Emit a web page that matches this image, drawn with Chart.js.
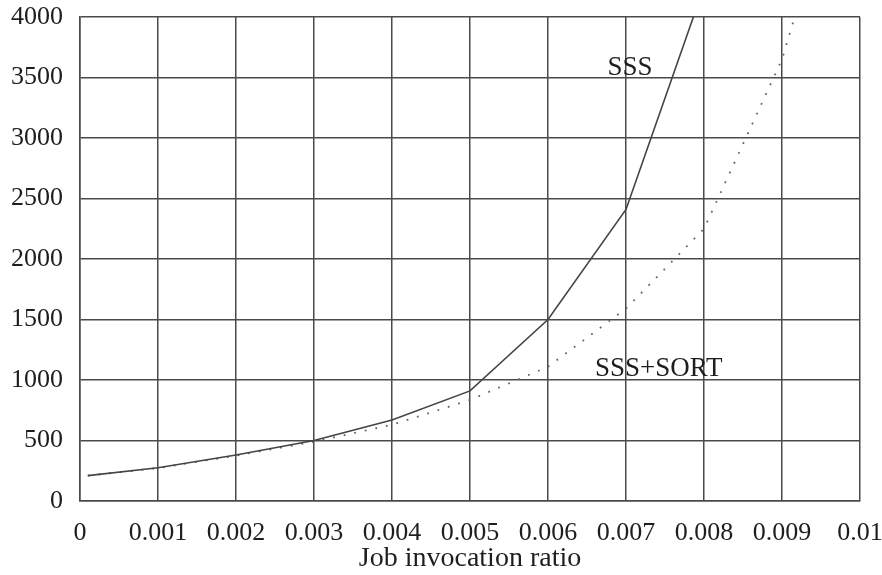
<!DOCTYPE html>
<html>
<head>
<meta charset="utf-8">
<script src="https://cdn.jsdelivr.net/npm/chart.js@4/dist/chart.umd.min.js"></script>
<style>
  html, body { margin: 0; padding: 0; background: #fff; }
  #wrap { width: 882px; height: 575px; }
</style>
</head>
<body>
<div id="wrap"><canvas id="chart"></canvas></div>
<script>
// values
const sssX = [0.0001, 0.001, 0.002, 0.003, 0.004, 0.005, 0.006, 0.007, 0.008];
const sssY = [210, 275, 380, 500, 670, 910, 1500, 2410, 4250];
const sortX = [0.0001, 0.001, 0.002, 0.003, 0.004, 0.005, 0.006, 0.007, 0.008, 0.009, 0.01];
const sortY = [210, 272, 375, 490, 630, 835, 1110, 1590, 2250, 3650, 5800];

// curve labels, placed in data coordinates
const curveLabels = ['SSS', 'SSS+SORT'];
const labelX = [0.00705, 0.00742];
const labelY = [3580, 1090];

const serif = '"Liberation Serif", "DejaVu Serif", serif';
const ink = '#1e1e1e';
const gridCol = '#4a4a4a';

const toPoints = (xs, ys) => xs.map((x, i) => ({ x, y: ys[i] }));

// draws the SSS / SSS+SORT names next to the curves
const curveLabelPlugin = {
    id: 'curveLabels',
    afterDatasetsDraw(chart) {
        const { ctx, scales } = chart;
        ctx.save();
        ctx.font = '27px ' + serif;
        ctx.fillStyle = ink;
        ctx.textAlign = 'center';
        ctx.textBaseline = 'middle';
        curveLabels.forEach((txt, i) => {
            ctx.fillText(txt, scales.x.getPixelForValue(labelX[i]), scales.y.getPixelForValue(labelY[i]));
        });
        ctx.restore();
    }
};

new Chart(document.getElementById('chart').getContext('2d'), {
    type: 'line',
    data: {
        datasets: [
            {
                label: 'SSS',
                data: toPoints(sssX, sssY),
                borderColor: '#444',
                borderWidth: 1.6,
                pointRadius: 0,
                tension: 0
            },
            {
                label: 'SSS+SORT',
                data: toPoints(sortX, sortY),
                borderColor: '#666',
                borderWidth: 1.8,
                borderDash: [1.8, 9],
                pointRadius: 0,
                tension: 0
            }
        ]
    },
    options: {
        responsive: true,
        maintainAspectRatio: false,
        animation: false,
        layout: { padding: { top: 17, right: 22, left: 0, bottom: 0 } },
        plugins: {
            legend: { display: false },
            tooltip: { enabled: false }
        },
        scales: {
            x: {
                type: 'linear',
                min: 0,
                max: 0.01,
                ticks: {
                    stepSize: 0.001,
                    padding: 17,
                    color: ink,
                    font: { family: serif, size: 26 },
                    maxRotation: 0,
                    callback: v => String(Number(v.toFixed(3)))
                },
                grid: { color: gridCol, lineWidth: 1.5, drawTicks: false },
                border: { color: gridCol, width: 1.5 },
                title: {
                    display: true,
                    text: 'Job invocation ratio',
                    color: ink,
                    font: { family: serif, size: 28 },
                    padding: { top: 0, bottom: 0 }
                },
                afterFit(scale) {
                    scale.height = 74;
                    scale.paddingLeft = 0;
                    scale.paddingRight = 0;
                }
            },
            y: {
                min: 0,
                max: 4000,
                ticks: {
                    stepSize: 500,
                    padding: 17,
                    color: ink,
                    font: { family: serif, size: 26 },
                    callback: v => String(v)
                },
                grid: { color: gridCol, lineWidth: 1.5, drawTicks: false },
                border: { color: gridCol, width: 1.5 },
                afterFit(scale) {
                    scale.width = 80;
                    scale.paddingTop = 0;
                    scale.paddingBottom = 0;
                }
            }
        }
    },
    plugins: [curveLabelPlugin]
});
</script>
</body>
</html>
